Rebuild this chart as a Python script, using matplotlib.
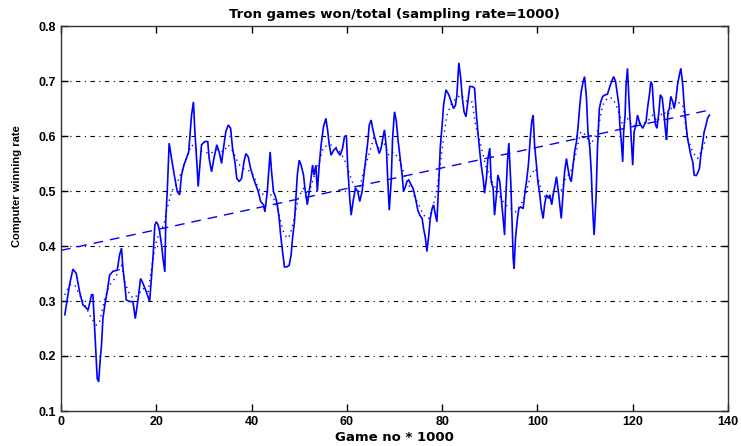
import matplotlib
matplotlib.use("Agg")
import matplotlib.pyplot as plt

# Solid line: games won / total per sample
game_x = [0.8, 1.8, 2.5, 3.2, 3.9, 4.6, 5.7, 6.4, 6.7, 7.1, 7.6, 7.9, 8.2, 8.5, 8.8, 9.2, 9.7, 10.2, 10.9, 11.8,
          12.3, 12.7, 13.0, 13.4, 13.7, 14.4, 15.1, 15.6, 16.2, 16.7, 17.2, 17.9, 18.6, 19.0, 19.3, 19.7, 20.0,
          20.4, 20.7, 21.1, 21.4, 21.8, 22.0, 22.3, 22.7, 23.2, 23.9, 24.4, 24.9, 25.3, 25.8, 26.3, 26.8, 27.4,
          27.8, 28.1, 28.5, 28.8, 29.2, 29.5, 30.2, 30.8, 31.1, 31.6, 32.1, 32.7, 33.2, 33.7, 34.1, 34.6, 35.1,
          35.6, 36.0, 36.5, 36.9, 37.4, 37.9, 38.4, 38.8, 39.3, 39.8, 40.4, 40.9, 41.4, 41.9, 42.5, 42.8, 43.3,
          43.7, 43.9, 44.2, 44.6, 45.1, 45.4, 45.8, 46.1, 46.5, 46.9, 47.4, 47.9, 48.3, 48.6, 49.0, 49.3, 49.6,
          50.0, 50.4, 50.9, 51.2, 51.7, 52.1, 52.4, 52.8, 53.1, 53.5, 53.8, 54.2, 54.6, 55.1, 55.6, 56.0, 56.3,
          56.7, 57.2, 57.7, 58.1, 58.6, 59.1, 59.5, 59.9, 60.2, 60.6, 60.9, 61.3, 61.8, 62.3, 62.7, 63.2, 63.5,
          63.9, 64.4, 64.7, 65.1, 65.4, 65.8, 66.3, 66.8, 67.2, 67.6, 67.9, 68.3, 68.6, 68.9, 69.3, 69.6, 70.0,
          70.4, 70.7, 71.2, 71.6, 71.9, 72.3, 72.6, 73.0, 73.5, 73.9, 74.4, 74.9, 75.3, 75.8, 76.1, 76.5, 76.8,
          77.2, 77.5, 77.9, 78.2, 78.6, 78.9, 79.3, 79.6, 80.0, 80.3, 80.8, 81.4, 81.9, 82.4, 82.8, 83.1, 83.5,
          83.9, 84.2, 84.6, 85.0, 85.4, 85.8, 86.3, 86.8, 87.2, 87.5, 87.9, 88.2, 88.6, 88.9, 89.3, 89.6, 90.0,
          90.3, 90.7, 91.0, 91.4, 91.7, 92.1, 92.4, 92.8, 93.1, 93.3, 93.7, 94.0, 94.4, 94.7, 94.9, 95.1, 95.4,
          95.8, 96.1, 96.5, 97.0, 97.4, 97.7, 98.1, 98.5, 98.8, 99.1, 99.4, 99.8, 100.1, 100.5, 100.8, 101.2,
          101.5, 101.9, 102.3, 102.6, 103.0, 103.3, 103.7, 104.0, 104.4, 104.7, 105.0, 105.4, 105.7, 106.1,
          106.4, 106.8, 107.1, 107.5, 107.8, 108.2, 108.5, 108.9, 109.2, 109.6, 109.9, 110.3, 110.6, 111.0,
          111.3, 111.5, 111.7, 111.9, 112.3, 112.6, 113.0, 113.3, 113.7, 114.3, 114.7, 115.2, 115.7, 116.0,
          116.4, 116.7, 117.1, 117.3, 117.6, 117.9, 118.1, 118.4, 118.6, 118.9, 119.3, 119.6, 120.0, 120.3,
          120.7, 121.0, 121.4, 121.7, 122.1, 122.4, 122.8, 123.1, 123.5, 123.8, 124.1, 124.4, 124.8, 125.1,
          125.5, 125.8, 126.2, 126.5, 126.9, 127.1, 127.4, 127.7, 128.0, 128.4, 128.7, 129.1, 129.4, 129.8,
          130.1, 130.5, 130.8, 131.2, 131.5, 131.9, 132.2, 132.6, 132.9, 133.3, 133.6, 134.0, 134.3, 134.7,
          135.0, 135.4, 135.7, 136.1]
win_rate = [0.275, 0.33, 0.358, 0.35, 0.317, 0.293, 0.284, 0.311, 0.312, 0.244, 0.159, 0.153, 0.19, 0.22, 0.268,
            0.293, 0.317, 0.347, 0.354, 0.356, 0.384, 0.396, 0.36, 0.329, 0.302, 0.299, 0.299, 0.268, 0.305,
            0.341, 0.332, 0.317, 0.299, 0.344, 0.378, 0.438, 0.444, 0.438, 0.426, 0.402, 0.378, 0.353, 0.45,
            0.499, 0.587, 0.559, 0.523, 0.499, 0.493, 0.529, 0.547, 0.559, 0.571, 0.638, 0.662, 0.608, 0.553,
            0.508, 0.553, 0.584, 0.59, 0.59, 0.559, 0.535, 0.559, 0.584, 0.571, 0.55, 0.578, 0.608, 0.62,
            0.614, 0.578, 0.553, 0.523, 0.517, 0.523, 0.553, 0.568, 0.562, 0.541, 0.523, 0.511, 0.499, 0.481,
            0.475, 0.462, 0.499, 0.547, 0.571, 0.535, 0.499, 0.487, 0.475, 0.45, 0.42, 0.39, 0.362, 0.362,
            0.365, 0.384, 0.414, 0.444, 0.487, 0.529, 0.556, 0.547, 0.529, 0.505, 0.475, 0.499, 0.517, 0.547,
            0.529, 0.547, 0.499, 0.547, 0.584, 0.617, 0.632, 0.608, 0.584, 0.565, 0.574, 0.578, 0.571, 0.565,
            0.578, 0.599, 0.601, 0.541, 0.487, 0.456, 0.481, 0.505, 0.499, 0.481, 0.499, 0.523, 0.553, 0.59,
            0.62, 0.629, 0.614, 0.599, 0.584, 0.568, 0.578, 0.599, 0.611, 0.578, 0.517, 0.465, 0.517, 0.596,
            0.644, 0.626, 0.596, 0.559, 0.529, 0.499, 0.508, 0.517, 0.52, 0.511, 0.505, 0.487, 0.465, 0.456,
            0.45, 0.432, 0.414, 0.39, 0.42, 0.45, 0.468, 0.475, 0.456, 0.444, 0.517, 0.578, 0.62, 0.656, 0.684,
            0.675, 0.662, 0.65, 0.656, 0.675, 0.733, 0.705, 0.672, 0.644, 0.635, 0.662, 0.69, 0.69, 0.687,
            0.638, 0.608, 0.571, 0.547, 0.523, 0.496, 0.523, 0.559, 0.578, 0.517, 0.505, 0.456, 0.493, 0.529,
            0.517, 0.487, 0.45, 0.42, 0.475, 0.553, 0.587, 0.517, 0.438, 0.378, 0.359, 0.414, 0.45, 0.468,
            0.471, 0.468, 0.499, 0.517, 0.547, 0.596, 0.626, 0.638, 0.584, 0.547, 0.517, 0.493, 0.468, 0.45,
            0.475, 0.493, 0.487, 0.493, 0.475, 0.493, 0.511, 0.526, 0.499, 0.475, 0.45, 0.499, 0.535, 0.559,
            0.541, 0.523, 0.517, 0.547, 0.571, 0.59, 0.614, 0.656, 0.681, 0.699, 0.708, 0.668, 0.608, 0.578,
            0.535, 0.487, 0.45, 0.42, 0.487, 0.578, 0.65, 0.662, 0.672, 0.675, 0.676, 0.69, 0.702, 0.708,
            0.699, 0.681, 0.656, 0.62, 0.59, 0.553, 0.608, 0.638, 0.693, 0.723, 0.65, 0.608, 0.547, 0.608,
            0.62, 0.638, 0.626, 0.62, 0.614, 0.62, 0.626, 0.65, 0.675, 0.699, 0.693, 0.65, 0.62, 0.614, 0.644,
            0.675, 0.669, 0.644, 0.608, 0.593, 0.644, 0.65, 0.672, 0.662, 0.65, 0.669, 0.693, 0.711, 0.723,
            0.693, 0.656, 0.62, 0.596, 0.578, 0.565, 0.553, 0.529, 0.528, 0.532, 0.541, 0.565, 0.59, 0.608,
            0.62, 0.632, 0.638]

# Dotted line: smoothed win rate
smooth_x = [0.8, 1.8, 2.9, 3.9, 5.0, 6.4, 7.4, 8.1, 9.2, 10.2, 11.3, 12.0, 12.7, 13.4, 14.1, 15.1, 16.2, 17.2,
            18.3, 19.3, 20.0, 20.7, 21.6, 22.1, 23.2, 24.2, 25.3, 26.3, 27.4, 28.5, 29.9, 31.3, 32.7, 34.1,
            35.1, 36.2, 37.2, 38.3, 39.3, 40.4, 41.4, 42.5, 43.5, 44.6, 45.6, 46.7, 47.4, 48.1, 49.1, 49.8,
            50.9, 51.9, 53.0, 54.0, 55.1, 56.5, 57.6, 59.0, 60.0, 61.1, 62.5, 63.5, 64.6, 65.6, 66.7, 67.7,
            68.8, 69.8, 70.9, 71.9, 73.0, 74.0, 75.1, 76.1, 77.2, 78.2, 78.9, 79.6, 80.3, 81.0, 82.1, 83.1,
            83.9, 85.3, 86.3, 87.0, 88.1, 89.1, 90.2, 91.2, 92.3, 93.3, 94.4, 95.4, 96.5, 97.5, 98.6, 99.6,
            100.7, 101.7, 102.8, 103.8, 104.9, 105.9, 107.0, 108.0, 109.1, 110.1, 111.2, 112.6, 113.7, 114.7,
            115.8, 116.8, 117.9, 118.9, 120.0, 121.0, 122.1, 123.1, 124.2, 125.2, 126.3, 127.4, 128.4, 129.4,
            130.5, 131.5, 132.6, 133.6, 134.7, 135.7, 136.1]
smooth_rate = [0.311, 0.329, 0.329, 0.311, 0.293, 0.268, 0.256, 0.262, 0.305, 0.329, 0.341, 0.353, 0.365,
               0.335, 0.317, 0.305, 0.311, 0.323, 0.317, 0.378, 0.408, 0.426, 0.438, 0.462, 0.499, 0.511,
               0.535, 0.559, 0.584, 0.575, 0.571, 0.568, 0.575, 0.571, 0.584, 0.571, 0.55, 0.541, 0.538,
               0.529, 0.505, 0.493, 0.499, 0.487, 0.462, 0.426, 0.414, 0.42, 0.456, 0.487, 0.505, 0.493,
               0.523, 0.547, 0.58, 0.584, 0.581, 0.565, 0.547, 0.517, 0.499, 0.535, 0.565, 0.596, 0.578,
               0.59, 0.565, 0.571, 0.559, 0.535, 0.511, 0.493, 0.475, 0.456, 0.45, 0.475, 0.505, 0.547,
               0.596, 0.638, 0.662, 0.669, 0.675, 0.662, 0.662, 0.62, 0.584, 0.547, 0.523, 0.505, 0.487,
               0.475, 0.468, 0.462, 0.475, 0.493, 0.529, 0.541, 0.505, 0.487, 0.487, 0.499, 0.499, 0.523,
               0.535, 0.565, 0.608, 0.602, 0.584, 0.608, 0.656, 0.669, 0.669, 0.65, 0.62, 0.632, 0.617,
               0.623, 0.623, 0.626, 0.638, 0.626, 0.644, 0.638, 0.656, 0.662, 0.656, 0.596, 0.571, 0.559,
               0.578, 0.602, 0.602]

# Dashed line: linear trend (end points)
trend_x = [0, 136]
trend_rate = [0.392, 0.647]

x_ticks = [0, 20, 40, 60, 80, 100, 120, 140]
y_ticks = [0.1, 0.2, 0.3, 0.4, 0.5, 0.6, 0.7, 0.8]

plt.rcParams['font.family'] = ['Liberation Sans', 'DejaVu Sans']

fig = plt.figure(figsize=(7.41, 4.46), dpi=100)
ax = fig.add_axes([61 / 741, 35 / 446, 667 / 741, 385 / 446])

blue = (0, 0, 1)
ax.plot(game_x, win_rate, color=blue, lw=1.2, solid_joinstyle='miter')
ax.plot(smooth_x, smooth_rate, color=blue, lw=1.0, linestyle=(0, (1, 3)))
ax.plot(trend_x, trend_rate, color=blue, lw=1.0, linestyle=(0, (7, 5)))

ax.set_xlim(0, 140)
ax.set_ylim(0.1, 0.8)
ax.set_xticks(x_ticks)
ax.set_yticks(y_ticks)
ax.set_xticklabels([str(v) for v in x_ticks])
ax.set_yticklabels([f"{v:.1f}" for v in y_ticks])

for yv in y_ticks[1:-1]:
    ax.axhline(yv, color='black', lw=0.8, linestyle=(0, (4, 4, 1, 4)), zorder=0)

ax.tick_params(direction='in', top=True, right=True, length=5, width=1, labelsize=9)
for lab in ax.get_xticklabels() + ax.get_yticklabels():
    lab.set_fontweight('bold')
for s in ax.spines.values():
    s.set_linewidth(1.0)
    s.set_color('#333333')

ax.set_title("Tron games won/total (sampling rate=1000)", fontsize=9.5, fontweight='bold',
             family=['DejaVu Sans'], pad=6)
ax.set_xlabel("Game no * 1000", fontsize=9.5, fontweight='bold', family=['DejaVu Sans'], labelpad=2)
ax.set_ylabel("Computer winning rate", fontsize=8, fontweight='bold', labelpad=5)
ax.yaxis.set_label_coords(-0.058, 0.585)

fig.savefig("out.png", dpi=100)
